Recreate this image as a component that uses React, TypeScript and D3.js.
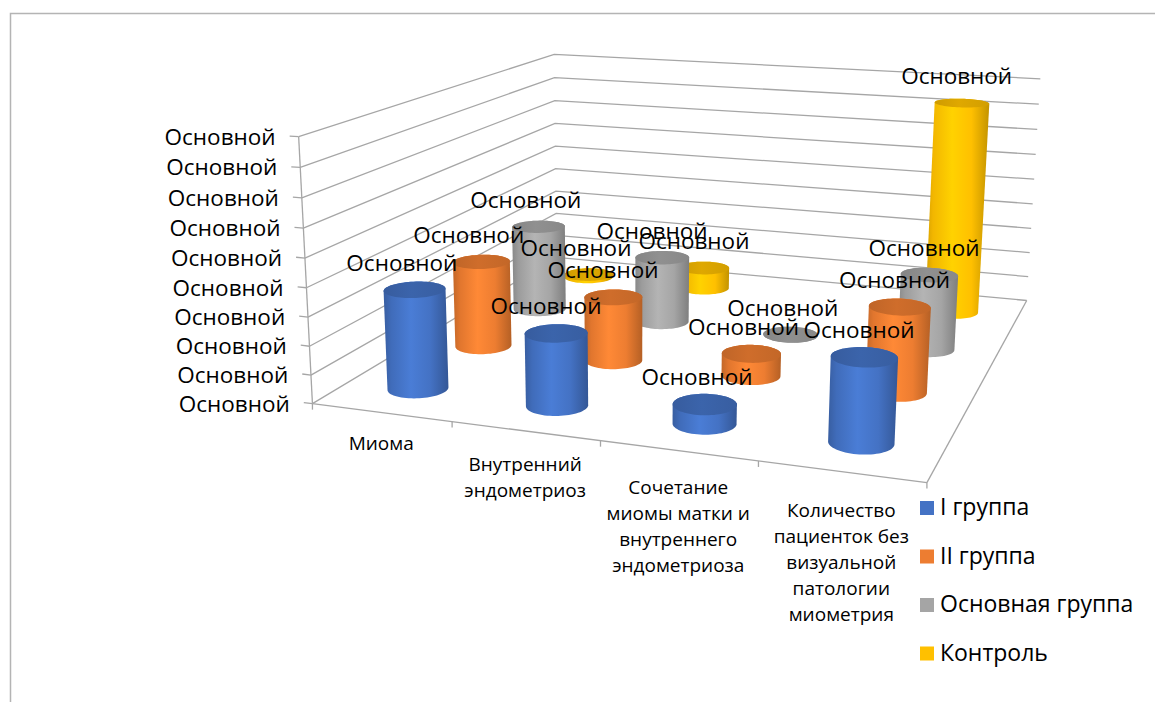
import React from "react";
import * as d3 from "d3";

// ---------- data ----------
const categories = [
  "Миома",
  "Внутренний эндометриоз",
  "Сочетание миомы матки и внутреннего эндометриоза",
  "Количество пациенток без визуальной патологии миометрия",
];
const categoryLines = [
  ["Миома"],
  ["Внутренний", "эндометриоз"],
  ["Сочетание", "миомы матки и", "внутреннего", "эндометриоза"],
  ["Количество", "пациенток без", "визуальной", "патологии", "миометрия"],
];
const seriesNames = ["I группа", "II группа", "Основная группа", "Контроль"];
const seriesColors = ["#4472C4", "#ED7D31", "#A5A5A5", "#FFC000"];
const group1: (number | null)[] = [35, 25, 6.5, 28];
const group2: (number | null)[] = [32, 23.5, 8, 30];
const groupMain: (number | null)[] = [33.5, 25.5, 0, 28];
const control: (number | null)[] = [1, 8.5, null, 83];
const seriesValues = [group1, group2, groupMain, control];
const valueTicks = [0, 10, 20, 30, 40, 50, 60, 70, 80, 90];
const tickLabel = "Основной";
const dataLabel = "Основной";

// ---------- layout (3D frame of the plot: unit cube corners on screen) ----------
const W = 1155;
const H = 702;
const frame3 = [
  [0, 0, 0], [0, 0, 1], [0, 1, 0], [0, 1, 1], [1, 1, 0], [1, 1, 1], [1, 0, 0],
];
const frame2 = [
  [313, 403], [298, 137], [556, 258], [555, 54], [1027, 300], [1040, 79], [927, 483],
];
const FONT = "'Open Sans', 'Noto Sans', 'DejaVu Sans', sans-serif";

function fitProjection() {
  const cx = 600, cy = 300, s = 500;
  const A: number[][] = [];
  const b: number[] = [];
  frame3.forEach(([X, Y, Z], i) => {
    const x = (frame2[i][0] - cx) / s;
    const y = (frame2[i][1] - cy) / s;
    A.push([X, Y, Z, 1, 0, 0, 0, 0, -x * X, -x * Y, -x * Z]);
    b.push(x);
    A.push([0, 0, 0, 0, X, Y, Z, 1, -y * X, -y * Y, -y * Z]);
    b.push(y);
  });
  const n = 11;
  const M: number[][] = [];
  for (let r = 0; r < n; r++) {
    const row = new Array(n + 1).fill(0);
    for (let c = 0; c < n; c++) {
      let sum = 0;
      for (let k = 0; k < A.length; k++) sum += A[k][r] * A[k][c];
      row[c] = sum;
    }
    let sb = 0;
    for (let k = 0; k < A.length; k++) sb += A[k][r] * b[k];
    row[n] = sb;
    M.push(row);
  }
  for (let c = 0; c < n; c++) {
    let piv = c;
    for (let r = c + 1; r < n; r++) if (Math.abs(M[r][c]) > Math.abs(M[piv][c])) piv = r;
    [M[c], M[piv]] = [M[piv], M[c]];
    for (let r = 0; r < n; r++) {
      if (r === c) continue;
      const f = M[r][c] / M[c][c];
      for (let k = c; k <= n; k++) M[r][k] -= f * M[c][k];
    }
  }
  const p = M.map((row, i) => row[n] / row[i]);
  return (X: number, Y: number, Z: number): [number, number] => {
    const w = p[8] * X + p[9] * Y + p[10] * Z + 1;
    const x = (p[0] * X + p[1] * Y + p[2] * Z + p[3]) / w;
    const y = (p[4] * X + p[5] * Y + p[6] * Z + p[7]) / w;
    return [x * s + cx, y * s + cy];
  };
}

const proj = fitProjection();

const xBand = d3.scaleBand<string>().domain(categories).range([0, 1]).paddingInner(0.6).paddingOuter(0.3);
const zBand = d3.scaleBand<string>().domain(seriesNames).range([0, 1]).paddingInner(0.6).paddingOuter(0.3);
const yScale = d3.scaleLinear().domain([0, 90]).range([0, 1]);

const line = (a: [number, number], b: [number, number]) => `M${a[0]},${a[1]}L${b[0]},${b[1]}`;

export default function App() {
  const N = 72;
  const cyl: any[] = [];
  seriesNames.forEach((sn, i) => {
    seriesValues[i].forEach((val, j) => {
      if (val === null || val === undefined) return;
      const r = xBand.bandwidth() / 2;
      const u0 = (xBand(categories[j]) as number) + r;
      const v0 = (zBand(sn) as number) + zBand.bandwidth() / 2;
      const h = yScale(val);
      const bottom = d3.range(N).map((k) => {
        const t = (k / N) * Math.PI * 2;
        return proj(u0 + r * Math.cos(t), v0 + r * Math.sin(t), 0);
      });
      const top = d3.range(N).map((k) => {
        const t = (k / N) * Math.PI * 2;
        return proj(u0 + r * Math.cos(t), v0 + r * Math.sin(t), h);
      });
      const hull = d3.polygonHull([...bottom, ...top] as [number, number][]);
      const base = proj(u0, v0, 0);
      const topC = proj(u0, v0, h);
      const scale = base[1] - proj(u0, v0, 1)[1];
      cyl.push({ i, j, u0, hull, top, topC, scale });
    });
  });
  cyl.sort((a, b) => a.scale - b.scale);

  const gridPaths = valueTicks.map((t) => {
    const h = yScale(t);
    const a = proj(0, 0, h), bb = proj(0, 1, h), c = proj(1, 1, h);
    return `M${a[0]},${a[1]}L${bb[0]},${bb[1]}L${c[0]},${c[1]}`;
  });

  const gridColor = "#a6a6a6";

  return (
    <svg width={W} height={H} style={{ position: "absolute", left: 0, top: 0, display: "block", background: "#fff" }} fontFamily={FONT}>
      <defs>
        {seriesColors.map((col, i) => {
          const c = d3.rgb(col);
          return (
            <React.Fragment key={i}>
              <linearGradient id={`body${i}`} x1="0" x2="1" y1="0" y2="0">
                <stop offset="0" stopColor={c.darker(0.55).formatHex()} />
                <stop offset="0.12" stopColor={c.darker(0.15).formatHex()} />
                <stop offset="0.42" stopColor={c.brighter(0.25).formatHex()} />
                <stop offset="0.72" stopColor={c.formatHex()} />
                <stop offset="1" stopColor={c.darker(0.75).formatHex()} />
              </linearGradient>
              <linearGradient id={`top${i}`} x1="0" x2="1" y1="0" y2="0">
                <stop offset="0" stopColor={c.darker(0.6).formatHex()} />
                <stop offset="0.45" stopColor={c.darker(0.38).formatHex()} />
                <stop offset="1" stopColor={c.darker(0.55).formatHex()} />
              </linearGradient>
            </React.Fragment>
          );
        })}
      </defs>

      {/* chart area border */}
      <path d={`M10.5,${H}L10.5,13.5L${W},13.5`} fill="none" stroke="#b4b4b4" strokeWidth={1.5} />

      {/* walls gridlines */}
      {gridPaths.map((d, k) => (
        <path key={k} d={d} fill="none" stroke={gridColor} strokeWidth={1.3} />
      ))}
      {/* floor front & right edge */}
      <path d={line(proj(0, 0, 0), proj(1, 0, 0))} stroke={gridColor} strokeWidth={1.3} />
      <path d={line(proj(1, 0, 0), proj(1, 1, 0))} stroke={gridColor} strokeWidth={1.3} />
      {/* value axis */}
      <path d={line(proj(0, 0, 0), proj(0, 0, 1))} stroke={gridColor} strokeWidth={1.3} />
      {valueTicks.map((t, k) => {
        const a = proj(0, 0, yScale(t));
        const b = proj(-0.016, 0, yScale(t));
        return (
          <g key={k}>
            <path d={line(a, b)} stroke={gridColor} strokeWidth={1.3} />
            <text x={b[0] - 14} y={a[1] + 2} textAnchor="end" dominantBaseline="middle" fontSize={22.5} fill="#000">
              {tickLabel}
            </text>
          </g>
        );
      })}
      {/* category ticks */}
      {d3.range(categories.length + 1).map((k) => {
        const a = proj(k / categories.length, 0, 0);
        return <path key={k} d={line(a, [a[0], a[1] + 6])} stroke={gridColor} strokeWidth={1.3} />;
      })}
      {/* category labels */}
      {categoryLines.map((lines, j) => {
        const u = (xBand(categories[j]) as number) + xBand.bandwidth() / 2;
        const p = proj(u, 0, 0);
        return (
          <text key={j} textAnchor="middle" fontSize={19} fill="#000">
            {lines.map((l, li) => (
              <tspan key={li} x={p[0]} y={p[1] + 38 + j * 2.5 + li * 26}>
                {l}
              </tspan>
            ))}
          </text>
        );
      })}

      {/* cylinders */}
      {cyl.map((c, k) => (
        <g key={k}>
          {c.hull && <path d={`M${c.hull.map((p: number[]) => p.join(",")).join("L")}Z`} fill={`url(#body${c.i})`} />}
          <path d={`M${c.top.map((p: number[]) => p.join(",")).join("L")}Z`} fill={`url(#top${c.i})`} />
        </g>
      ))}

      {/* data labels */}
      {cyl.map((c, k) => (
        <text key={k} x={c.topC[0] - 14 + 10 * c.u0} y={c.topC[1] - 25} textAnchor="middle" dominantBaseline="middle" fontSize={22.5} fill="#000">
          {dataLabel}
        </text>
      ))}

      {/* legend */}
      {seriesNames.map((sn, i) => (
        <g key={sn} transform={`translate(920, ${508 + i * 48.5})`}>
          <rect x={0} y={-7} width={14} height={14} fill={seriesColors[i]} />
          <text x={20} y={1} dominantBaseline="middle" fontSize={23} fill="#000">
            {sn}
          </text>
        </g>
      ))}
    </svg>
  );
}
